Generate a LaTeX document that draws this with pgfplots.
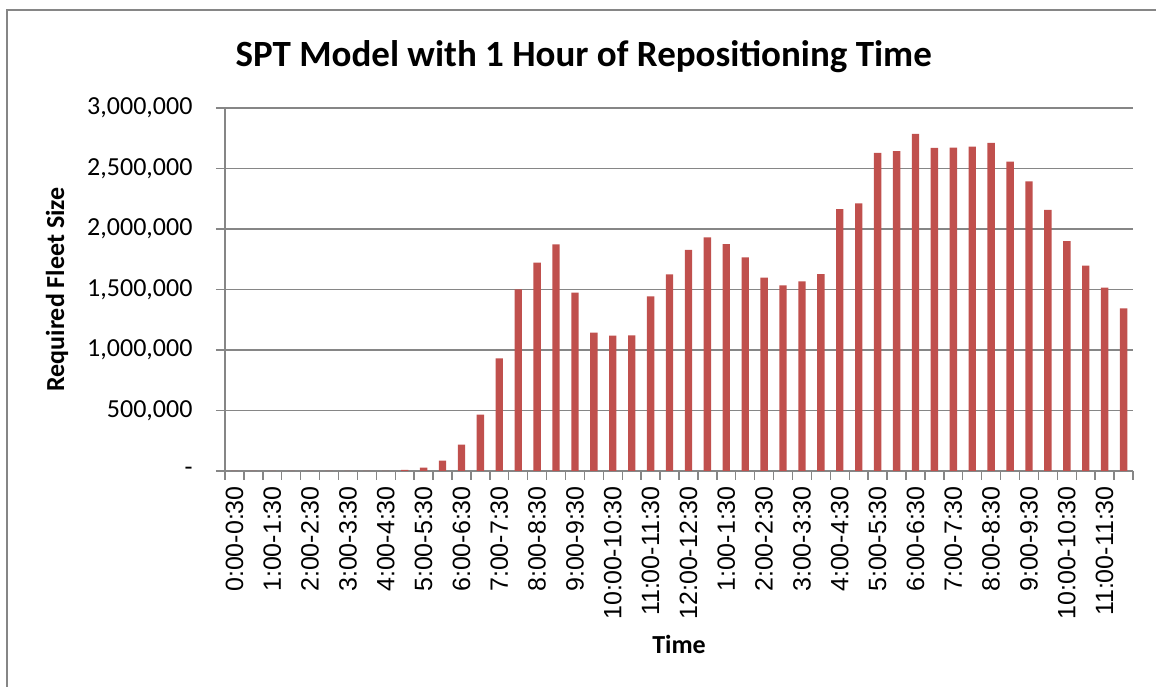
\documentclass[border=0pt]{standalone}
\usepackage{fontspec}
\setmainfont{Carlito}
\newfontfamily\arialfont{Liberation Sans}
\usepackage{pgfplots}
\pgfplotsset{compat=1.18}
\definecolor{barred}{HTML}{C0504D}
\definecolor{gridgray}{HTML}{868686}
\pgfplotstableread{
x y
0 0
1 0
2 0
3 0
4 0
5 0
6 0
7 0
8 1000
9 10000
10 28000
11 85000
12 218000
13 466000
14 930000
15 1502000
16 1723000
17 1872000
18 1475000
19 1143000
20 1118000
21 1121000
22 1444000
23 1624000
24 1828000
25 1930000
26 1875000
27 1765000
28 1599000
29 1535000
30 1568000
31 1626000
32 2165000
33 2212000
34 2629000
35 2643000
36 2786000
37 2670000
38 2673000
39 2681000
40 2712000
41 2557000
42 2394000
43 2159000
44 1900000
45 1698000
46 1516000
47 1345000
}\fleet
\begin{document}
\begin{tikzpicture}[x=1pt,y=1pt]
\useasboundingbox (0,0) rectangle (1156,687);
\draw[gridgray, line width=1.4pt] (7,0) -- (7,677) -- (1156,677);
\begin{axis}[
  at={(225pt,216pt)}, anchor=south west, scale only axis,
  width=908pt, height=363pt,
  xmin=-0.5, xmax=47.5, ymin=0, ymax=3000000,
  axis x line*=bottom, axis y line*=left,
  axis line style={gridgray, line width=1.4pt},
  ymajorgrids, major grid style={gridgray, line width=1.4pt},
  tick align=outside,
  tick style={gridgray, line width=1.4pt},
  major tick length=9pt,
  scaled y ticks=false,
  ytick={0,500000,1000000,1500000,2000000,2500000,3000000},
  yticklabels={{-\hspace{24pt}},{500,000},{1,000,000},{1,500,000},{2,000,000},{2,500,000},{3,000,000}},
  yticklabel style={xshift=-20pt, font=\fontsize{26}{30}\selectfont, text=black},
  xtick={-0.5,0.5,...,47.5},
  xticklabels={},
  extra x ticks={0,2,...,46},
  extra x tick labels={0:00-0:30,1:00-1:30,2:00-2:30,3:00-3:30,4:00-4:30,5:00-5:30,6:00-6:30,7:00-7:30,8:00-8:30,9:00-9:30,10:00-10:30,11:00-11:30,12:00-12:30,1:00-1:30,2:00-2:30,3:00-3:30,4:00-4:30,5:00-5:30,6:00-6:30,7:00-7:30,8:00-8:30,9:00-9:30,10:00-10:30,11:00-11:30},
  extra x tick style={major tick length=0pt, grid=none,
    tick label style={rotate=90, anchor=east, inner xsep=15pt, font=\arialfont\fontsize{25}{30}\selectfont, text=black}},
  title={SPT Model with 1 Hour of Repositioning Time},
  title style={at={(axis description cs:0.395,1.124)}, anchor=center, font=\fontsize{37}{42}\selectfont\bfseries},
  xlabel={Time},
  xlabel style={at={(axis description cs:0.5,-0.477)}, anchor=center, font=\fontsize{26}{30}\selectfont\bfseries},
  ylabel={Required Fleet Size},
  ylabel style={at={(axis description cs:-0.185,0.5)}, anchor=center, rotate=0, font=\fontsize{26}{30}\selectfont\bfseries},
]
\addplot[ybar, bar width=7.4pt, fill=barred, draw=none] table[x=x,y=y] {\fleet};
\end{axis}
\end{tikzpicture}
\end{document}
